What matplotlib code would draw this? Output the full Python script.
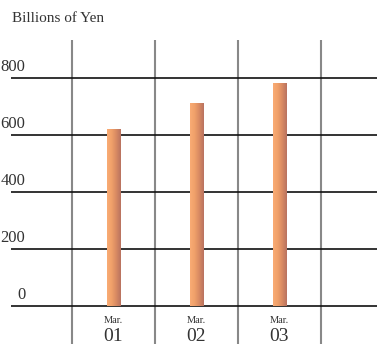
import matplotlib.pyplot as plt
import numpy as np
from matplotlib.colors import LinearSegmentedColormap

# Billions of Yen at fiscal year end
periods = ["01", "02", "03"]
values = [621, 709, 779]
yticks = [0, 200, 400, 600, 800]

BAR_W = 0.157
TEXT = "#333333"
bar_cmap = LinearSegmentedColormap.from_list(
    "bar", ["#F9AC74", "#F0A06A", "#D88A62", "#B97260"]
)

plt.rcParams["font.family"] = ["Liberation Serif", "DejaVu Serif"]

fig = plt.figure(figsize=(3.77, 3.44), dpi=100)
ax = fig.add_axes([0, 0, 1, 1])
ax.axis("off")

x = np.arange(len(periods))

# horizontal rules with labels sitting above them
ax.hlines(yticks, -1.235, 3.175, color="#111111", linewidth=1.2, zorder=2)
for v in yticks:
    ax.text(-1.06, v + 12, str(v), ha="right", va="bottom",
            fontsize=12, color=TEXT)

# vertical separators between periods
vx = list(x - 0.5) + [x[-1] + 0.5]
ax.vlines(vx, -140, 933, color="#888888", linewidth=1.5, zorder=1)

# bars with a left-to-right shading
grad = np.linspace(0, 1, 64).reshape(1, -1)
for xi, v in zip(x, values):
    ax.imshow(grad, cmap=bar_cmap, aspect="auto", interpolation="bilinear",
              extent=[xi - BAR_W / 2, xi + BAR_W / 2, 0, v], zorder=3)

# period labels
for xi, p in zip(x, periods):
    ax.text(xi, -52, "Mar.", ha="center", va="center", fontsize=7.5, color=TEXT)
    ax.text(xi, -108, p, ha="center", va="center", fontsize=14, color=TEXT)

ax.set_xlim(-1.367, 3.175)
ax.set_ylim(-133.3, 1073.7)

fig.text(12 / 377, 1 - 19 / 344, "Billions of Yen", ha="left", va="center",
         fontsize=11, color=TEXT)

fig.savefig("out.png", dpi=100, facecolor="white")
